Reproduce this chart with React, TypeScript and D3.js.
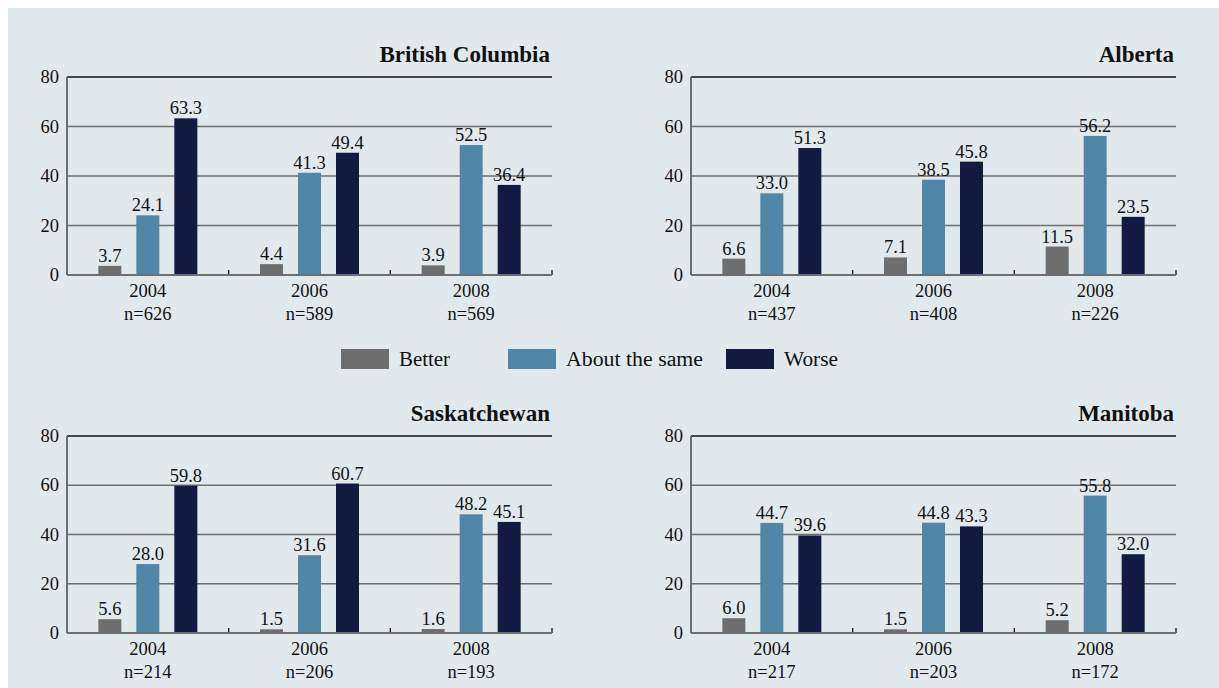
import React from 'react';
import {scaleBand, scaleLinear} from 'd3';

const years = ['2004', '2006', '2008'];
const seriesNames = ['Better', 'About the same', 'Worse'];
const colors = ['#6e6e6e', '#5086a7', '#121a41'];
const yTicks = [0, 20, 40, 60, 80];

const provinces = ['British Columbia', 'Alberta', 'Saskatchewan', 'Manitoba'];

const bcValues = [[3.7, 24.1, 63.3], [4.4, 41.3, 49.4], [3.9, 52.5, 36.4]];
const abValues = [[6.6, 33.0, 51.3], [7.1, 38.5, 45.8], [11.5, 56.2, 23.5]];
const skValues = [[5.6, 28.0, 59.8], [1.5, 31.6, 60.7], [1.6, 48.2, 45.1]];
const mbValues = [[6.0, 44.7, 39.6], [1.5, 44.8, 43.3], [5.2, 55.8, 32.0]];

const bcN = ['626', '589', '569'];
const abN = ['437', '408', '226'];
const skN = ['214', '206', '193'];
const mbN = ['217', '203', '172'];

const font = '"Liberation Serif", "DejaVu Serif", serif';

const Panel = props => {
    let {title, values, ns, x0, x1, yTop, yBottom} = props;
    let x = scaleBand().domain(years).range([x0, x1]);
    let y = scaleLinear().domain([0, 80]).range([yBottom, yTop]);
    let barW = 23, step = 38;

    return (
        <g>
            <text x={x1 - 2} y={yTop - 15} textAnchor="end" fontSize="23" fontWeight="bold" fill="#111">{title}</text>
            {yTicks.map(t => <g key={t}>
                {t > 0 &&
                <line x1={x0} x2={x1} y1={y(t)} y2={y(t)} stroke={t === 80 ? '#111' : '#6e6e6e'} strokeWidth={t === 80 ? 1.3 : 1.6}/>
                }
                <text x={x0 - 8} y={y(t)} dy="6" textAnchor="end" fontSize="18.5" fill="#111">{t}</text>
            </g>)}
            {years.map((yr, i) => {
                let cx = x(yr) + x.bandwidth() / 2;
                return <g key={yr}>
                    {values[i].map((v, j) => {
                        let bx = cx + (j - 1) * step - barW / 2;
                        return <g key={j}>
                            <rect x={bx} y={y(v)} width={barW} height={yBottom - y(v)} fill={colors[j]}/>
                            <text x={bx + barW / 2} y={y(v) - 4} textAnchor="middle" fontSize="18.5" fill="#111">{v.toFixed(1)}</text>
                        </g>;
                    })}
                    <text x={cx} y={yBottom + 22} textAnchor="middle" fontSize="18.5" fill="#111">{yr}</text>
                    <text x={cx} y={yBottom + 45} textAnchor="middle" fontSize="18.5" fill="#111">{'n=' + ns[i]}</text>
                    <line x1={x(yr) + x.bandwidth()} x2={x(yr) + x.bandwidth()} y1={yBottom - 5} y2={yBottom} stroke="#111" strokeWidth="1.3"/>
                </g>;
            })}
            <line x1={x0} x2={x1} y1={yBottom} y2={yBottom} stroke="#6e6e6e" strokeWidth="2"/>
            <line x1={x0} x2={x0} y1={yTop} y2={yBottom} stroke="#6e6e6e" strokeWidth="2"/>
        </g>
    );
};

const legendX = [341, 508, 726];
const legendTextW = [51, 137, 54];

const App = () => {
    return (
        <svg width={1219} height={688} style={{position: 'absolute', left: 0, top: 0, fontFamily: font}}>
            <rect x="8" y="8" width={1211} height={680} fill="#e2e9ed"/>
            <Panel title={provinces[0]} values={bcValues} ns={bcN} x0={67} x1={552} yTop={77} yBottom={275}/>
            <Panel title={provinces[1]} values={abValues} ns={abN} x0={691} x1={1176} yTop={77} yBottom={275}/>
            <Panel title={provinces[2]} values={skValues} ns={skN} x0={67} x1={552} yTop={436} yBottom={633}/>
            <Panel title={provinces[3]} values={mbValues} ns={mbN} x0={691} x1={1176} yTop={436} yBottom={633}/>
            {seriesNames.map((s, i) => <g key={s} transform={`translate(${legendX[i]},349)`}>
                <rect width="48" height="20" fill={colors[i]}/>
                <text x={58} y={17} fontSize="20" fill="#111" textLength={legendTextW[i]} lengthAdjust="spacingAndGlyphs">{s}</text>
            </g>)}
        </svg>
    );
};

export default App;
